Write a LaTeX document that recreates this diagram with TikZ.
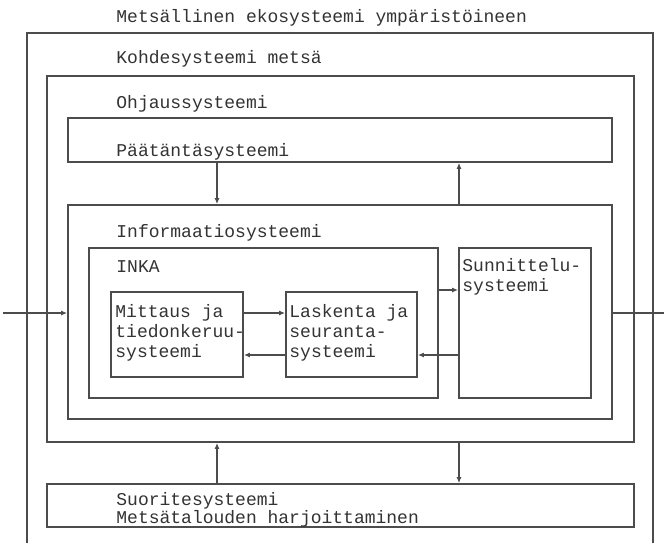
\documentclass[tikz,border=0pt]{standalone}
\usepackage{fontspec}
\usepackage{xcolor}
\usepackage{tikz}
\usetikzlibrary{arrows.meta, fit}
\newfontfamily\typefont{Liberation Mono}

\tikzset{
  sysbox/.style={draw=black!70, line width=0.8pt, rectangle, inner sep=0pt},
  lbl/.style={anchor=base west, inner sep=0pt, align=left, text=black!80,
              font=\typefont\fontsize{9}{9.8}\selectfont},
  arr/.style={draw=black!70, line width=0.8pt, -{Latex[length=3pt,width=2.4pt]}}
}

\begin{document}
\begin{tikzpicture}[x=0.5pt, y=-0.5pt]
  \useasboundingbox (0,0) rectangle (664,543);

  % Ymparisto (avoin alareuna)
  \node[lbl] (ymp) at (116,22) {Metsällinen ekosysteemi ympäristöineen};
  \draw[black!70, line width=0.8pt] (27,543) |- (653,33) -- (653,543);

  % Kohdesysteemi
  \node[sysbox, fit={(47,76) (634,442)}] (kohde) {};
  \node[lbl] (kohdet) at (116,63) {Kohdesysteemi metsä};
  \node[lbl] (ohjt) at (116,108) {Ohjaussysteemi};

  % Paatantasysteemi
  \node[sysbox, fit={(68,118) (612,162)}] (paat) {};
  \node[lbl] (paatt) at (116,156) {Päätäntäsysteemi};

  % Informaatiosysteemi
  \node[sysbox, fit={(68,205) (612,419)}] (info) {};
  \node[lbl] (infot) at (116,237) {Informaatiosysteemi};

  \node[sysbox, fit={(89,248) (438,398)}] (inka) {};
  \node[lbl] (inkat) at (116,272) {INKA};

  \node[sysbox, fit={(459,248) (591,398)}] (sunn) {};
  \node[lbl] (sunnt) at (462,291) {Sunnittelu-\\systeemi};

  \node[sysbox, fit={(111,292) (243,377)}] (mitt) {};
  \node[lbl] (mittt) at (115,357) {Mittaus ja\\tiedonkeruu-\\systeemi};

  \node[sysbox, fit={(286,292) (417,377)}] (lask) {};
  \node[lbl] (laskt) at (289,357) {Laskenta ja\\seuranta-\\systeemi};

  % Suoritesysteemi
  \node[sysbox, fit={(47,484) (634,527)}] (suor) {};
  \node[lbl] (suort) at (116,523) {Suoritesysteemi\\[-1.2pt]Metsätalouden harjoittaminen};

  % apupisteet
  \coordinate (inL) at (3,313);
  \coordinate (outR) at (664,313);
  \coordinate (r0) at (0,290);
  \coordinate (r1) at (0,313);
  \coordinate (r2) at (0,355);
  \coordinate (c1) at (217,0);
  \coordinate (c2) at (459,0);

  % yhteydet
  \draw[arr] (inL) -- (inL -| info.west);
  \draw[black!70, line width=0.8pt] (info.east |- outR) -- (outR);
  \draw[arr] (mitt.east |- r1) -- (lask.west |- r1);
  \draw[arr] (lask.west |- r2) -- (mitt.east |- r2);
  \draw[arr] (sunn.west |- r2) -- (lask.east |- r2);
  \draw[arr] (inka.east |- r0) -- (sunn.west |- r0);
  \draw[arr] (paat.south -| c1) -- (info.north -| c1);
  \draw[arr] (info.north -| c2) -- (paat.south -| c2);
  \draw[arr] (suor.north -| c1) -- (kohde.south -| c1);
  \draw[arr] (kohde.south -| c2) -- (suor.north -| c2);
\end{tikzpicture}
\end{document}
